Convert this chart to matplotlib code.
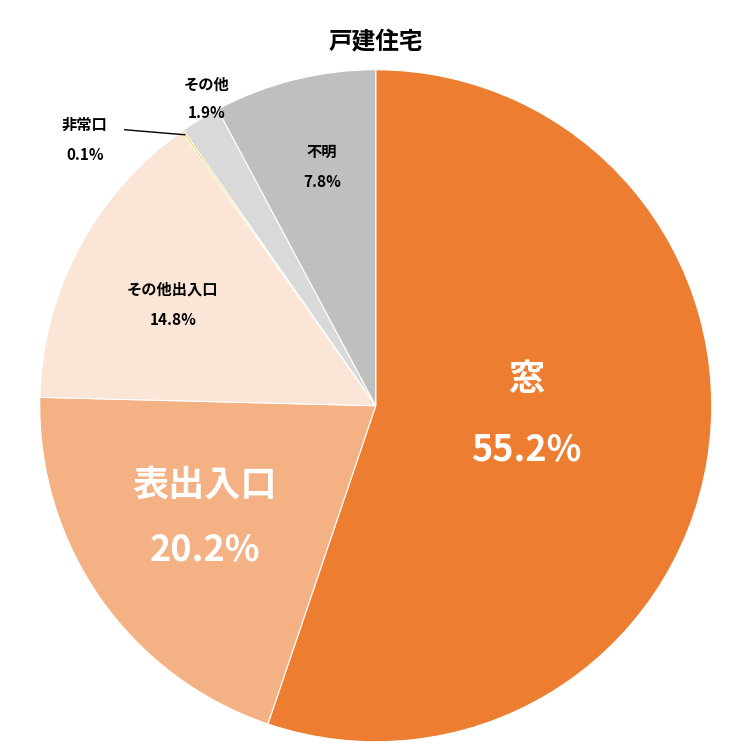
import matplotlib.pyplot as plt

labels = ["窓", "表出入口", "その他出入口", "非常口", "その他", "不明"]
values = [55.2, 20.2, 14.8, 0.1, 1.9, 7.8]
colors = ["#ED7D31", "#F4B183", "#FBE5D6", "#FFC000", "#D9D9D9", "#BFBFBF"]

plt.rcParams["font.family"] = "Noto Sans CJK JP"

fig = plt.figure(figsize=(7.5, 7.5), dpi=100, facecolor="white")
ax = fig.add_axes([0.053, 0.011, 0.896, 0.896])
ax.pie(values, colors=colors, startangle=90, counterclock=False,
       wedgeprops=dict(edgecolor="white", linewidth=0.8))
ax.set_xlim(-1, 1)
ax.set_ylim(-1, 1)


def px(x, y):
    # convert reference pixel position to data coords
    return (x - 376) / 336, (406 - y) / 336


# label positions (pixel), font size, colour
label_spec = [
    ((527, 380), (527, 450), 26, "white"),
    ((205, 485), (205, 550), 26, "white"),
    ((173, 290), (173, 320), 11, "black"),
    ((85, 125), (85, 155), 11, "black"),
    ((207, 85), (207, 113), 11, "black"),
    ((322, 152), (322, 182), 11, "black"),
]
for name, val, (p1, p2, fs, c) in zip(labels, values, label_spec):
    ax.text(*px(*p1), name, ha="center", va="center", fontsize=fs,
            color=c, fontweight="bold")
    ax.text(*px(*p2), f"{val}%", ha="center", va="center", fontsize=fs,
            color=c, fontweight="bold")

# leader line for 非常口
(x0, y0), (x1, y1) = px(125, 130), px(185, 135)
ax.plot([x0, x1], [y0, y1], color="black", linewidth=1)

fig.text(0.501, 1 - 42 / 750, "戸建住宅", ha="center", va="center",
         fontsize=17, fontweight="bold")

plt.savefig("out.png", dpi=100)
